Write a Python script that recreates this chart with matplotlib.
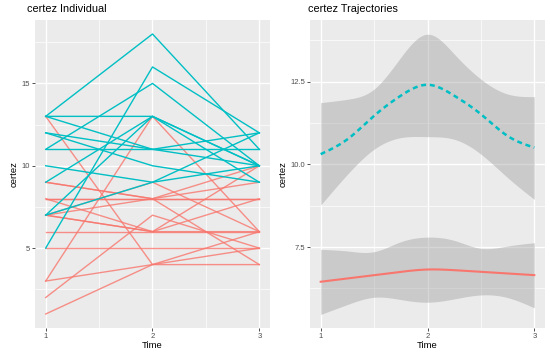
import numpy as np
import matplotlib
matplotlib.use("Agg")
import matplotlib.pyplot as plt
from matplotlib.ticker import FixedLocator

plt.rcParams["font.family"] = ["Liberation Sans", "DejaVu Sans"]

# ---------------- data ----------------
times = [1, 2, 3]
# individual trajectories (values at time 1, 2, 3)
red_subjects = [
    [13, 4, 5], [3, 13, 6], [3, 4, 4], [1, 4, 6], [2, 7, 5], [9, 8, 10],
    [9, 8, 4], [8, 8, 8], [8, 6, 10], [7, 9, 6], [7, 8, 9], [7, 6, 6],
    [7, 6, 8], [6, 6, 6], [5, 5, 5], [8, 8, 8],
]
cyan_subjects = [
    [13, 18, 11], [5, 16, 12], [11, 15, 10], [13, 11, 10], [12, 11, 12],
    [12, 10, 9], [11, 11, 11], [10, 9, 10], [9, 13, 10], [7, 13, 10],
    [7, 9, 12], [13, 13, 9],
]
# smoothed trajectories
traj_x = [1, 1.25, 1.5, 1.75, 2, 2.25, 2.5, 2.75, 3]
cyan_mean = [10.31, 10.76, 11.47, 12.08, 12.41, 12.08, 11.52, 10.86, 10.51]
cyan_upper = [11.87, 11.97, 12.28, 13.24, 13.94, 13.34, 12.58, 12.13, 12.05]
cyan_lower = [8.77, 9.70, 10.46, 10.81, 10.84, 10.76, 10.31, 9.60, 8.94]
red_mean = [6.45, 6.55, 6.65, 6.75, 6.82, 6.80, 6.75, 6.70, 6.65]
red_upper = [7.43, 7.38, 7.36, 7.66, 7.80, 7.70, 7.46, 7.53, 7.63]
red_lower = [5.46, 5.76, 5.98, 5.91, 5.83, 5.93, 6.05, 5.97, 5.66]

RED = "#F8766D"
CYAN = "#00BFC4"


def natural_spline(x, y, xs):
    x = np.asarray(x, float); y = np.asarray(y, float)
    n = len(x); h = np.diff(x)
    A = np.zeros((n, n)); b = np.zeros(n)
    A[0, 0] = A[-1, -1] = 1
    for i in range(1, n - 1):
        A[i, i - 1] = h[i - 1]; A[i, i] = 2 * (h[i - 1] + h[i]); A[i, i + 1] = h[i]
        b[i] = 3 * ((y[i + 1] - y[i]) / h[i] - (y[i] - y[i - 1]) / h[i - 1])
    c = np.linalg.solve(A, b)
    out = np.empty_like(xs)
    for k, xv in enumerate(xs):
        i = min(max(np.searchsorted(x, xv) - 1, 0), n - 2)
        dx = xv - x[i]
        bi = (y[i + 1] - y[i]) / h[i] - h[i] * (2 * c[i] + c[i + 1]) / 3
        di = (c[i + 1] - c[i]) / (3 * h[i])
        out[k] = y[i] + bi * dx + c[i] * dx ** 2 + di * dx ** 3
    return out


def style(ax, ymaj, ymin, ylim):
    ax.set_facecolor("#EBEBEB")
    ax.set_xlim(0.9, 3.1)
    ax.set_ylim(*ylim)
    ax.xaxis.set_major_locator(FixedLocator([1, 2, 3]))
    ax.xaxis.set_minor_locator(FixedLocator([1.5, 2.5]))
    ax.yaxis.set_major_locator(FixedLocator(ymaj))
    ax.yaxis.set_minor_locator(FixedLocator(ymin))
    ax.grid(which="major", color="white", linewidth=1.0)
    ax.grid(which="minor", color="white", linewidth=0.5)
    ax.set_axisbelow(True)
    for s in ax.spines.values():
        s.set_visible(False)
    ax.tick_params(which="major", length=2.0, width=0.6, color="#333333",
                   labelsize=5.5, labelcolor="#4D4D4D", pad=1.5)
    ax.tick_params(which="minor", length=0)
    ax.set_xlabel("Time", fontsize=6.8, labelpad=1)
    ax.set_ylabel("certez", fontsize=6.8, labelpad=2)


fig = plt.figure(figsize=(5.5, 3.52), dpi=100)
ax1 = fig.add_axes([35 / 550, 1 - 328 / 352, 235 / 550, 308 / 352])
ax2 = fig.add_axes([310 / 550, 1 - 328 / 352, 235 / 550, 308 / 352])

for s in red_subjects:
    ax1.plot(times, s, color=RED, linewidth=1.0, alpha=0.8)
for s in cyan_subjects:
    ax1.plot(times, s, color=CYAN, linewidth=1.0)
style(ax1, [5, 10, 15], [2.5, 7.5, 12.5, 17.5], (0.15, 18.85))
ax1.set_yticklabels(["5", "10", "15"])
fig.text(27 / 550, 1 - 9 / 352, "certez Individual", fontsize=7.8, va="center", ha="left")

xs = np.linspace(1, 3, 200)
ax2.fill_between(xs, natural_spline(traj_x, red_lower, xs), natural_spline(traj_x, red_upper, xs),
                 color="#999999", alpha=0.4, linewidth=0)
ax2.fill_between(xs, natural_spline(traj_x, cyan_lower, xs), natural_spline(traj_x, cyan_upper, xs),
                 color="#999999", alpha=0.4, linewidth=0)
ax2.plot(xs, natural_spline(traj_x, red_mean, xs), color=RED, linewidth=1.5)
ax2.plot(xs, natural_spline(traj_x, cyan_mean, xs), color=CYAN, linewidth=1.8,
         linestyle=(0, (2, 1.5)))
style(ax2, [7.5, 10.0, 12.5], [6.25, 8.75, 11.25, 13.75], (5.05, 14.37))
ax2.set_yticklabels(["7.5", "10.0", "12.5"])
fig.text(308 / 550, 1 - 9 / 352, "certez Trajectories", fontsize=7.8, va="center", ha="left")

fig.savefig("out.png", dpi=100, facecolor="white")
